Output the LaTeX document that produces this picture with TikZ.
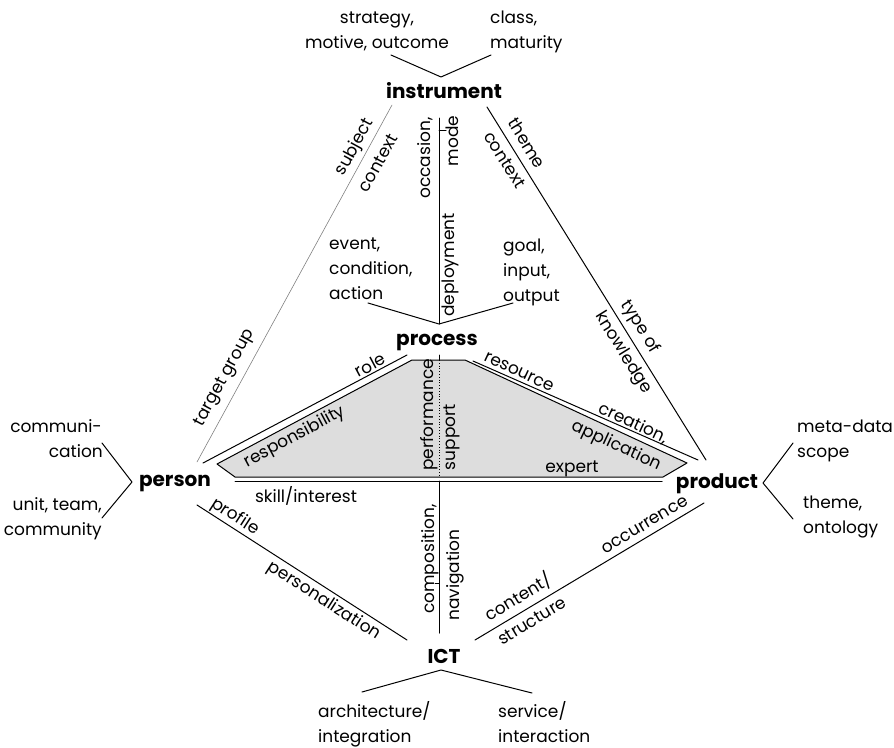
\documentclass[tikz,border=0pt]{standalone}
\usepackage{fontspec}
\setmainfont{Poppins}
\definecolor{polyfill}{RGB}{221,221,221}
\begin{document}
\begin{tikzpicture}[x=1pt,y=-1pt,
  lbl/.style={inner sep=0pt, font=\fontsize{17}{24}\selectfont},
  key/.style={inner sep=0pt, font=\fontsize{20}{24}\selectfont\bfseries},
  ln/.style={line width=1pt, line cap=round, line join=round},
  thinln/.style={line width=0.6pt, gray, line cap=round},
]
\useasboundingbox (0,0) rectangle (894,747);

% ---------- process polygon and double edges ----------
\coordinate (pA) at (217,464);
\coordinate (pB) at (412,360);
\coordinate (pC) at (465,360);
\coordinate (pD) at (687,463);
\coordinate (pE) at (663,477);
\coordinate (pF) at (235,477);
\draw[ln, fill=polyfill] (pA) -- (pB) -- (pC) -- (pD) -- (pE) -- (pF) -- cycle;
\coordinate (oL1) at (203,463); \coordinate (oL2) at (407,355);
\coordinate (oR1) at (473,361); \coordinate (oR2) at (698,460);
\coordinate (oB1) at (235,481); \coordinate (oB2) at (662,481);
\draw[ln] (oL1) -- (oL2);
\draw[ln] (oR1) -- (oR2);
\draw[ln] (oB1) -- (oB2);

% ---------- main nodes ----------
\node[key, anchor=base] (instrument) at (444,98) {instrument};
\node[key, anchor=base] (process) at (437,345) {process};
\node[key, anchor=base] (person) at (175,486) {person};
\node[key, anchor=base] (product) at (717,488) {product};
\node[key, anchor=base] (ict) at (444,663) {ICT};

% ---------- connector end points ----------
\coordinate (tV1) at (391,55); \coordinate (tV0) at (441,77); \coordinate (tV2) at (491,55);
\coordinate (iP) at (392,105); \coordinate (pI) at (197,462);
\coordinate (iR) at (487,107); \coordinate (rI) at (706,460);
\coordinate (iD) at (439,118); \coordinate (dI) at (439,324);
\coordinate (tk1) at (439,130); \coordinate (tk2) at (446,130);
\coordinate (pV1) at (368,303); \coordinate (pV2) at (513,303);
\coordinate (cTop) at (439,355); \coordinate (cIn) at (439,360);
\coordinate (cIn2) at (439,477); \coordinate (cOut) at (439,481);
\coordinate (cBot) at (439,633);
\coordinate (bk1) at (435,583); \coordinate (bk2) at (439,583);
\coordinate (pC1) at (197,505); \coordinate (cP1) at (407,640);
\coordinate (cR1) at (475,640); \coordinate (rC1) at (704,503);
\coordinate (lV1) at (102,443); \coordinate (lV0) at (132,482); \coordinate (lV2) at (102,518);
\coordinate (rV1) at (793,443); \coordinate (rV0) at (763,483); \coordinate (rV2) at (793,519);
\coordinate (bV1) at (362,692); \coordinate (bV0) at (441,670); \coordinate (bV2) at (532,693);

% ---------- connectors ----------
\draw[ln] (tV1) -- (tV0) -- (tV2);
\draw[thinln] (iP) -- (pI);
\draw[ln] (iR) -- (rI);
\draw[ln] (iD) -- (dI);
\draw[ln] (tk1) -- (tk2);
\draw[ln] (pV1) -- (dI) -- (pV2);
\draw[ln] (cTop) -- (cIn);
\draw[line width=0.8pt, dotted] (cIn) -- (cIn2);
\draw[ln] (cOut) -- (cBot);
\draw[ln] (bk1) -- (bk2);
\draw[ln] (pC1) -- (cP1);
\draw[ln] (cR1) -- (rC1);
\draw[ln] (lV1) -- (lV0) -- (lV2);
\draw[ln] (rV1) -- (rV0) -- (rV2);
\draw[ln] (bV1) -- (bV0) -- (bV2);

% ---------- top labels ----------
\node[lbl, anchor=base] (strat1) at (377,23) {strategy,};
\node[lbl, anchor=base] (strat2) at (377,48) {motive, outcome};
\node[lbl, anchor=base west] (class1) at (490,23) {class,};
\node[lbl, anchor=base west] (class2) at (490,48) {maturity};

% ---------- instrument edges ----------
\node[lbl, rotate=61.4] (subj) at (355,147) {subject};
\node[lbl, rotate=61.4] (ctxL) at (378,163) {context};
\node[lbl, rotate=61.4] (tgt) at (225,378) {target group};
\node[lbl, rotate=-58.2] (theme) at (527,143) {theme};
\node[lbl, rotate=-58.2] (ctxR) at (505,160) {context};
\node[lbl, rotate=-58.2] (typeof) at (640,327) {type of};
\node[lbl, rotate=-58.2] (knowl) at (623,353) {knowledge};
\node[lbl, rotate=90] (occ) at (425,158) {occasion,};
\node[lbl, rotate=90] (mode) at (452,141) {mode};
\node[lbl, rotate=90] (deploy) at (450,265) {deployment};

% ---------- process labels ----------
\node[lbl, anchor=base west] (ev1) at (329,249) {event,};
\node[lbl, anchor=base west] (ev2) at (329,274) {condition,};
\node[lbl, anchor=base west] (ev3) at (329,299) {action};
\node[lbl, anchor=base west] (go1) at (503,251) {goal,};
\node[lbl, anchor=base west] (go2) at (503,276) {input,};
\node[lbl, anchor=base west] (go3) at (503,301) {output};
\node[lbl, rotate=28] (role) at (370,365) {role};
\node[lbl, rotate=28] (resp) at (295,437) {responsibility};
\node[lbl, rotate=90] (perf) at (429,415) {performance};
\node[lbl, rotate=90] (supp) at (452,437) {support};
\node[lbl, rotate=-25] (res) at (519,372) {resource};
\node[lbl, rotate=-25] (creat) at (633,423) {creation,};
\node[lbl, rotate=-25] (appl) at (616,446) {application};
\node[lbl, anchor=base] (expert) at (572,472) {expert};
\node[lbl, anchor=base] (skill) at (306,502) {skill/interest};

% ---------- ICT edges ----------
\node[lbl, rotate=-32.7] (prof) at (235,517) {profile};
\node[lbl, rotate=-32.7] (pers) at (324,601) {personalization};
\node[lbl, rotate=90] (comp) at (430,559) {composition,};
\node[lbl, rotate=90] (navi) at (455,575) {navigation};
\node[lbl, rotate=30.9] (occur) at (645,525) {occurrence};
\node[lbl, rotate=30.9] (cont) at (518,597) {content/};
\node[lbl, rotate=30.9] (struct) at (532,621) {structure};

% ---------- side labels ----------
\node[lbl, anchor=base east] (com1) at (102,432) {communi-};
\node[lbl, anchor=base east] (com2) at (103,457) {cation};
\node[lbl, anchor=base east] (unit1) at (102,510) {unit, team,};
\node[lbl, anchor=base east] (unit2) at (102,535) {community};
\node[lbl, anchor=base west] (meta1) at (797,432) {meta-data};
\node[lbl, anchor=base west] (meta2) at (797,457) {scope};
\node[lbl, anchor=base west] (onto1) at (803,508) {theme,};
\node[lbl, anchor=base west] (onto2) at (803,533) {ontology};
\node[lbl, anchor=base west] (arch1) at (318,717) {architecture/};
\node[lbl, anchor=base west] (arch2) at (318,742) {integration};
\node[lbl, anchor=base west] (serv1) at (498,717) {service/};
\node[lbl, anchor=base west] (serv2) at (498,742) {interaction};
\end{tikzpicture}
\end{document}
